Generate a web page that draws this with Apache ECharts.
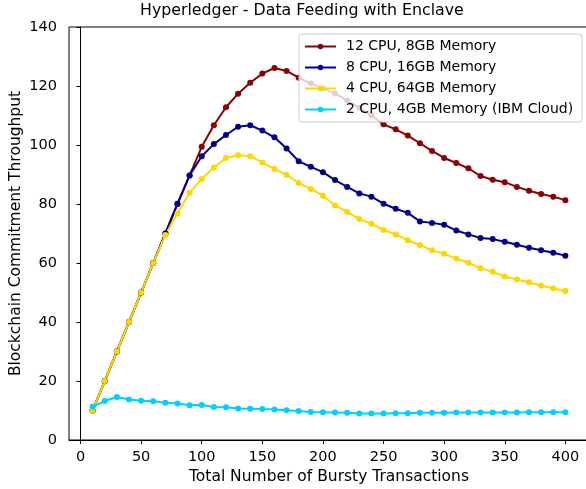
<!DOCTYPE html>
<html>
<head>
<meta charset="utf-8">
<style>
  html, body { margin: 0; padding: 0; background: #fff; }
  #main { width: 586px; height: 489px; }
</style>
<script src="https://cdn.jsdelivr.net/npm/echarts@6/dist/echarts.min.js"></script>
</head>
<body>
<div id="main"></div>
<script>
const xValues = [10, 20, 30, 40, 50, 60, 70, 80, 90, 100, 110, 120, 130, 140, 150, 160, 170, 180, 190, 200,
  210, 220, 230, 240, 250, 260, 270, 280, 290, 300, 310, 320, 330, 340, 350, 360, 370, 380, 390, 400]

const cpu12 = [10, 20, 30, 40, 50, 60, 70, 80, 89.7, 99.4, 106.7, 112.8, 117.4, 121.1, 124.2, 126.1, 125.1, 122.8, 120.9, 119.2,
  117.5, 115.1, 112.6, 110.1, 107.0, 105.3, 103.2, 100.6, 98.0, 95.6, 93.9, 92.1, 89.5, 88.2, 87.4, 85.8, 84.5, 83.4, 82.5, 81.3]
const cpu8 = [10, 20, 30, 40, 50, 60, 70, 80.1, 89.7, 96.2, 100.3, 103.4, 106.2, 106.7, 104.9, 102.6, 98.8, 94.5, 92.6, 90.8,
  88.1, 85.8, 83.6, 82.5, 80.1, 78.4, 77.0, 74.1, 73.6, 73.0, 71.0, 69.7, 68.5, 68.1, 67.2, 66.2, 65.2, 64.3, 63.5, 62.5]
const cpu4 = [10, 20, 30, 40, 50, 60, 69.5, 76.8, 83.8, 88.5, 92.4, 95.6, 96.5, 96.2, 94.1, 91.9, 89.9, 87.1, 85.1, 82.8,
  79.5, 77.3, 74.9, 73.3, 71.2, 69.7, 67.7, 66.1, 64.3, 63.1, 61.5, 60.1, 58.2, 57.0, 55.4, 54.4, 53.5, 52.3, 51.4, 50.5]
const cpu2 = [11.3, 13.2, 14.6, 13.7, 13.3, 13.1, 12.6, 12.4, 11.8, 11.9, 11.2, 11.1, 10.7, 10.6, 10.5, 10.3, 10.1, 9.8, 9.5, 9.4,
  9.3, 9.2, 9.0, 9.0, 9.0, 9.1, 9.1, 9.2, 9.2, 9.2, 9.3, 9.3, 9.3, 9.3, 9.3, 9.3, 9.4, 9.4, 9.4, 9.4]

const xTicks = [0, 50, 100, 150, 200, 250, 300, 350, 400]

const seriesNames = ["12 CPU, 8GB Memory", "8 CPU, 16GB Memory", "4 CPU, 64GB Memory", "2 CPU, 4GB Memory (IBM Cloud)"]
const seriesColors = ["#8b0000", "#00008b", "#ffd700", "#00d0ff"]
const seriesData = [cpu12, cpu8, cpu4, cpu2]

const font = "DejaVu Sans"

const myChart = echarts.init(document.getElementById("main"), null, { renderer: "canvas" })

myChart.setOption({
  animation: false,
  textStyle: { fontFamily: font },
  title: {
    text: "Hyperledger - Data Feeding with Enclave",
    left: 140,
    top: 3,
    padding: 0,
    textStyle: { fontFamily: font, fontSize: 15.8, fontWeight: "normal", color: "#000" },
  },
  legend: {
    orient: "vertical",
    left: 299,
    top: 34,
    padding: [2, 9, 2, 5],
    itemWidth: 31,
    itemHeight: 7,
    itemGap: 0,
    backgroundColor: "rgba(255,255,255,0.8)",
    borderColor: "#cccccc",
    borderWidth: 1,
    borderRadius: 3,
    textStyle: { fontFamily: font, fontSize: 14, color: "#000", lineHeight: 21, padding: [0, 0, 0, 5] },
    data: seriesNames,
  },
  grid: {
    left: 69,
    right: -3,
    top: 27,
    bottom: 49,
    outerBoundsMode: "none",
    containLabel: false,
    show: true,
    borderColor: "#000",
    borderWidth: 1,
  },
  xAxis: {
    type: "value",
    min: -9.5,
    max: 419.5,
    name: "Total Number of Bursty Transactions",
    nameLocation: "middle",
    nameGap: 29,
    nameMoveOverlap: false,
    nameTextStyle: { fontFamily: font, fontSize: 15.5, color: "#000" },
    axisLine: { show: true, lineStyle: { color: "#000", width: 1 } },
    axisTick: { show: true, length: 4, customValues: xTicks, lineStyle: { color: "#000" } },
    axisLabel: { customValues: xTicks, fontFamily: font, fontSize: 14.5, color: "#000", margin: 10 },
    splitLine: { show: false },
  },
  yAxis: {
    type: "value",
    min: 0,
    max: 140,
    interval: 20,
    name: "Blockchain Commitment Throughput",
    nameLocation: "middle",
    nameGap: 45,
    nameMoveOverlap: false,
    nameTextStyle: { fontFamily: font, fontSize: 15.5, color: "#000" },
    axisLine: { show: true, lineStyle: { color: "#000", width: 1 } },
    axisTick: { show: true, length: 4, lineStyle: { color: "#000" } },
    axisLabel: { fontFamily: font, fontSize: 14.5, color: "#000", margin: 12 },
    splitLine: { show: false },
  },
  series: seriesNames.map((name, i) => ({
    name,
    type: "line",
    data: xValues.map((x, j) => [x, seriesData[i][j]]),
    color: seriesColors[i],
    symbol: "circle",
    symbolSize: 6,
    lineStyle: { width: 2, color: seriesColors[i] },
    itemStyle: { color: seriesColors[i] },
  })),
})
</script>
</body>
</html>
